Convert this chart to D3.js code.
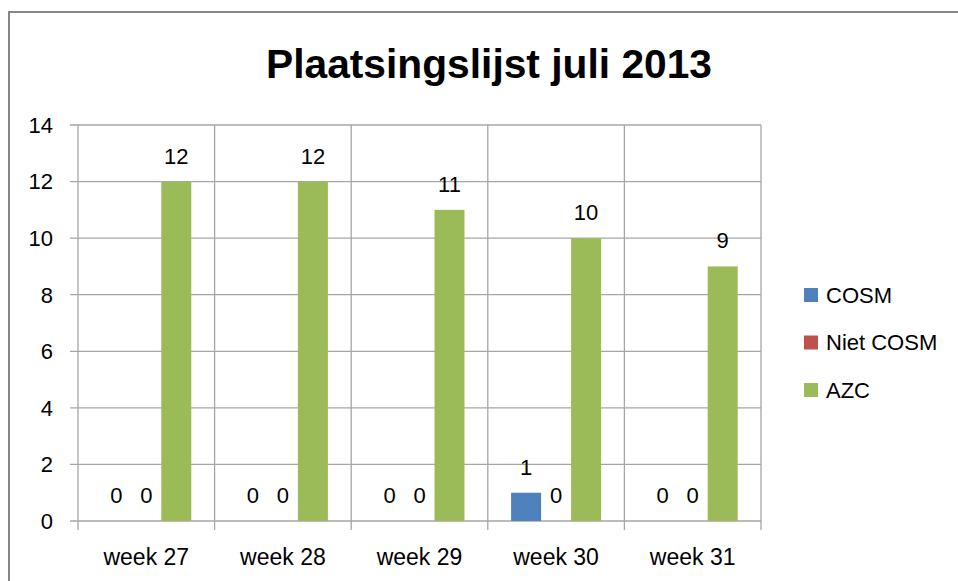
<!DOCTYPE html>
<html>
<head>
<meta charset="utf-8">
<script src="https://cdn.jsdelivr.net/npm/d3@7"></script>
<style>
  html, body { margin: 0; padding: 0; background: #fff; }
  svg { display: block; }
  text { font-family: "Liberation Sans", Arial, sans-serif; fill: #000; }
</style>
</head>
<body>
<svg id="chart" width="958" height="581"></svg>
<script>
const title = "Plaatsingslijst juli 2013";
const categories = ["week 27", "week 28", "week 29", "week 30", "week 31"];
const seriesNames = ["COSM", "Niet COSM", "AZC"];
const cosm = [0, 0, 0, 1, 0];
const nietCosm = [0, 0, 0, 0, 0];
const azc = [12, 12, 11, 10, 9];
const yTicks = [0, 2, 4, 6, 8, 10, 12, 14];
const colors = ["#4F81BD", "#C0504D", "#9BBB59"];

const seriesValues = [cosm, nietCosm, azc];

const svg = d3.select("#chart");

// outer chart border
svg.append("rect")
  .attr("x", 9).attr("y", 12)
  .attr("width", 1000).attr("height", 700)
  .attr("fill", "#fff")
  .attr("stroke", "#868686").attr("stroke-width", 2);

// title
svg.append("text")
  .attr("x", 489).attr("y", 78)
  .attr("text-anchor", "middle")
  .attr("font-size", 41)
  .attr("font-weight", "bold")
  .attr("textLength", 446)
  .attr("lengthAdjust", "spacingAndGlyphs")
  .text(title);

const plot = { left: 78, right: 761, top: 125, bottom: 521 };

const x = d3.scaleBand().domain(categories).range([plot.left, plot.right]).padding(0);
const xSub = d3.scaleBand().domain(seriesNames).range([0, x.bandwidth()])
  .paddingInner(0).paddingOuter(0.777);
const y = d3.scaleLinear().domain([0, 14]).range([plot.bottom, plot.top]);

const grid = svg.append("g").attr("stroke", "#a6a6a6").attr("stroke-width", 1.3);

// horizontal gridlines + left tick marks
grid.selectAll("line.h").data(yTicks).join("line")
  .attr("x1", plot.left - 8).attr("x2", plot.right)
  .attr("y1", d => y(d)).attr("y2", d => y(d));

// vertical gridlines at category boundaries (with ticks below axis)
const bounds = categories.map(c => x(c)).concat([x(categories[categories.length - 1]) + x.bandwidth()]);
grid.selectAll("line.v").data(bounds).join("line")
  .attr("x1", d => d).attr("x2", d => d)
  .attr("y1", plot.top).attr("y2", plot.bottom + 9);

// y tick labels
svg.append("g").selectAll("text").data(yTicks).join("text")
  .attr("x", 53).attr("y", d => y(d))
  .attr("dy", "0.36em")
  .attr("text-anchor", "end")
  .attr("font-size", 22)
  .text(d => d);

// category labels
svg.append("g").selectAll("text").data(categories).join("text")
  .attr("x", d => x(d) + x.bandwidth() / 2)
  .attr("y", 565)
  .attr("text-anchor", "middle")
  .attr("font-size", 23)
  .text(d => d);

// bars and value labels
seriesNames.forEach((s, si) => {
  const g = svg.append("g");
  const data = categories.map((c, i) => ({ c, v: seriesValues[si][i] }));
  g.selectAll("rect").data(data).join("rect")
    .attr("x", d => x(d.c) + xSub(s))
    .attr("width", xSub.bandwidth())
    .attr("y", d => y(d.v))
    .attr("height", d => y(0) - y(d.v))
    .attr("fill", colors[si]);
  g.selectAll("text").data(data).join("text")
    .attr("x", d => x(d.c) + xSub(s) + xSub.bandwidth() / 2)
    .attr("y", d => y(d.v) - 18)
    .attr("text-anchor", "middle")
    .attr("font-size", 22)
    .text(d => d.v);
});

// legend
const legend = svg.append("g");
seriesNames.forEach((s, i) => {
  const cy = 295 + i * 47.5;
  legend.append("rect")
    .attr("x", 804).attr("y", cy - 7)
    .attr("width", 14).attr("height", 14)
    .attr("fill", colors[i]);
  legend.append("text")
    .attr("x", 826).attr("y", cy)
    .attr("dy", "0.36em")
    .attr("font-size", 22)
    .text(s);
});
</script>
</body>
</html>
